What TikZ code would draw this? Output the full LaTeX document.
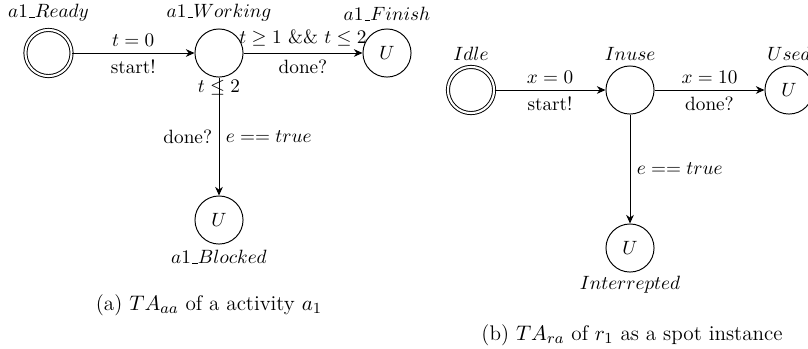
\documentclass[tikz,border=0pt]{standalone}
\usetikzlibrary{arrows.meta}
\newcommand\myus{\mbox{\kern.06em\vbox{\hrule width.3em}}}
\tikzset{
  st/.style={circle,draw,line width=0.5pt,minimum size=25pt,inner sep=0pt},
  init/.style={st,double,double distance=1.1pt,minimum size=24pt},
  nm/.style={inner sep=0pt},
  captext/.style={inner sep=0pt,font=\fontsize{11}{13}\selectfont},
  tr/.style={-{Stealth[length=4.5pt,width=4pt]},line width=0.5pt},
}
\begin{document}
\begin{tikzpicture}[x=0.52pt,y=-0.52pt]
\useasboundingbox (0,0) rectangle (808,348);
% (a)
\node[init] (ready) at (48.5,53) {};
\node[st] (work) at (219,53) {};
\node[st] (fin) at (387,53) {$U$};
\node[st] (blk) at (219,220) {$U$};
\node[nm] (readyN) at (48.5,13) {$a1\myus Ready$};
\node[nm] (workN) at (219,13) {$a1\myus Working$};
\node[nm] (finN) at (387,14) {$a1\myus Finish$};
\node[nm] (blkN) at (219,257) {$a1\myus Blocked$};
\node[nm] (workI) at (219,88) {$t \leq 2$};
\draw[tr] (ready) -- node[above]{$t=0$} node[below]{start!} (work);
\draw[tr] (work) -- node[above]{$t \geq 1$ \&\& $t \leq 2$} node[below]{done?} (fin);
\draw[tr] (work) -- node[left]{done?} node[right]{$e == true$} (blk);
\node[captext] (capA) at (209,305) {(a) $TA_{aa}$ of a activity $a_1$};
% (b)
\node[init] (idle) at (471,90) {};
\node[st] (inuse) at (630,90) {};
\node[st] (used) at (789,90) {$U$};
\node[st] (intr) at (630,248) {$U$};
\node[nm] (idleN) at (471,54) {$Idle$};
\node[nm] (inuseN) at (630,54) {$Inuse$};
\node[nm] (usedN) at (789,54) {$Used$};
\node[nm] (intrN) at (630,285) {$Interrepted$};
\draw[tr] (idle) -- node[above]{$x=0$} node[below]{start!} (inuse);
\draw[tr] (inuse) -- node[above]{$x=10$} node[below]{done?} (used);
\draw[tr] (inuse) -- node[right]{$e == true$} (intr);
\node[captext] (capB) at (632,335) {(b) $TA_{ra}$ of $r_1$ as a spot instance};
\end{tikzpicture}
\end{document}
